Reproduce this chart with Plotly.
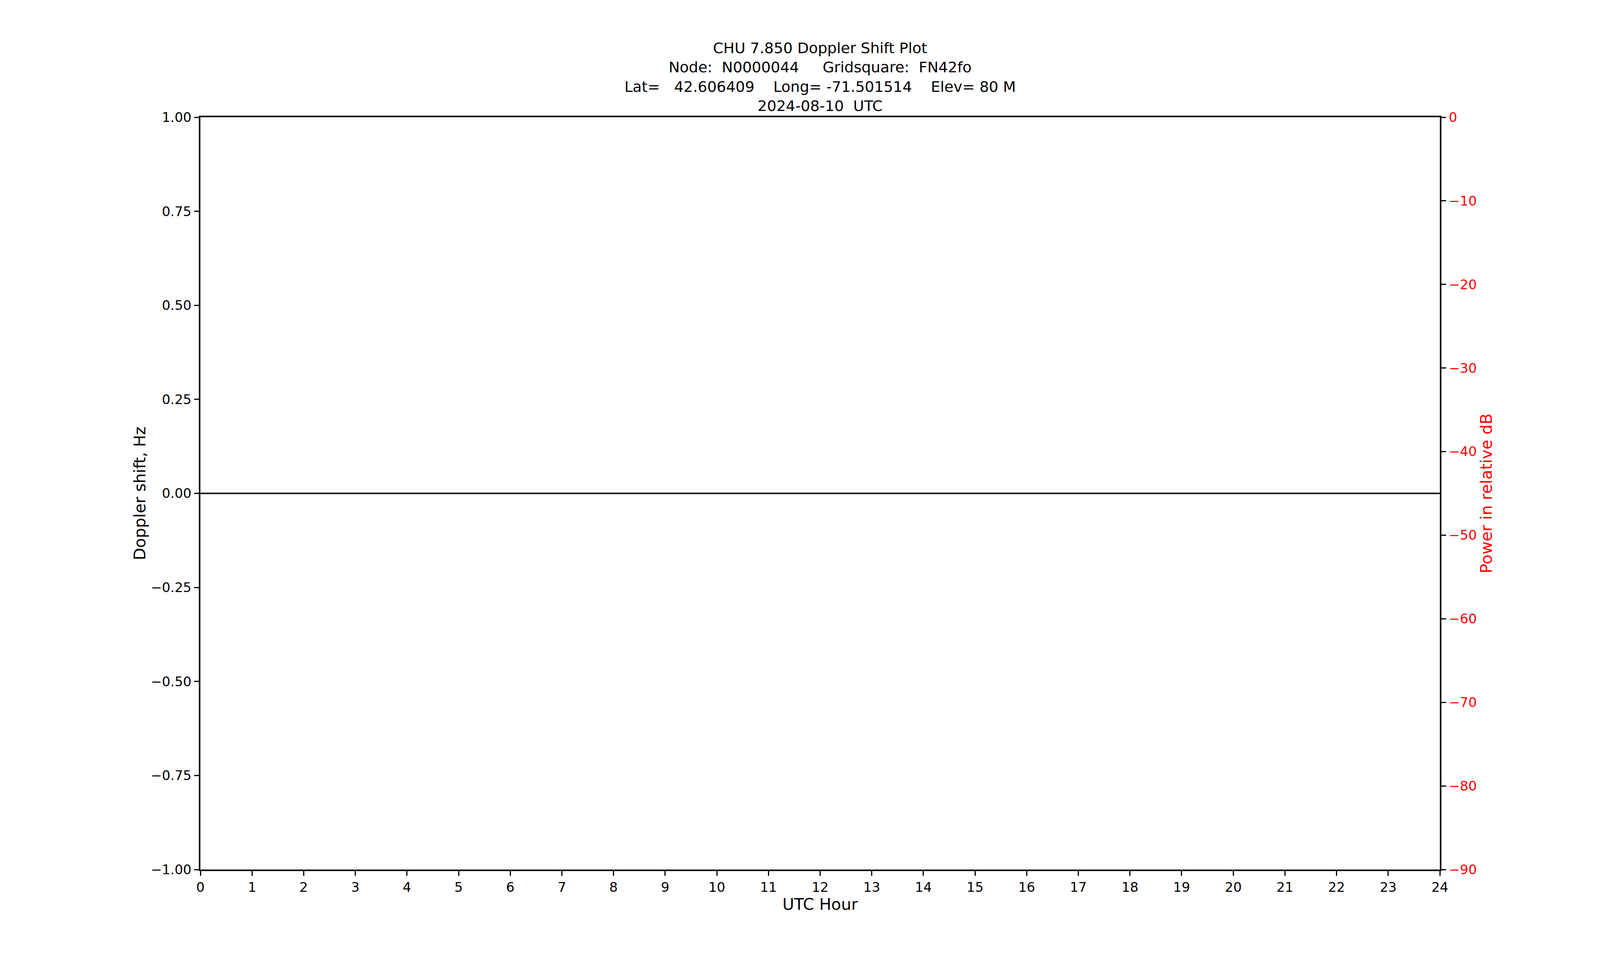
import plotly.graph_objects as go

# CHU doppler day plot (no signal recorded this day -> flat zero doppler line)

hours = [0, 24]
doppler = [0.0, 0.0]

x_ticks = list(range(0, 25))
y_ticks = [-1.0, -0.75, -0.5, -0.25, 0.0, 0.25, 0.5, 0.75, 1.0]
power_ticks = [0, -10, -20, -30, -40, -50, -60, -70, -80, -90]

title_lines = [
    "CHU 7.850 Doppler Shift Plot",
    "Node:  N0000044     Gridsquare:  FN42fo",
    "Lat=   42.606409    Long= -71.501514    Elev= 80 M",
    "2024-08-10  UTC",
]

font_name = "DejaVu Sans"

fig = go.Figure()
fig.add_trace(go.Scatter(x=hours, y=doppler, mode='lines',
                         line=dict(color='#8c8c8c', width=5),
                         showlegend=False, hoverinfo='skip'))
fig.add_trace(go.Scatter(x=hours, y=doppler, mode='lines',
                         line=dict(color='black', width=2.5),
                         showlegend=False))
# empty power trace just to bring up the right axis
fig.add_trace(go.Scatter(x=[], y=[], yaxis='y2', mode='lines',
                         line=dict(color='red'), showlegend=False))

fig.update_layout(
    width=4080, height=2484,
    margin=dict(l=505, r=402, t=292, b=267),
    paper_bgcolor='white', plot_bgcolor='white',
    font=dict(family=font_name, size=34, color='black'),
    title=dict(text="<br>".join(title_lines), xref='paper', x=0.5, xanchor='center',
               y=0.9485, yanchor='top',
               font=dict(family=font_name, size=38, color='black')),
    xaxis=dict(range=[0, 24], tickvals=x_ticks, showgrid=False, zeroline=False,
               showline=True, linecolor='black', linewidth=4, mirror=True,
               ticks='outside', ticklen=12, tickwidth=3, tickcolor='black',
               title=dict(text="UTC Hour", standoff=7)),
    yaxis=dict(range=[-1, 1], tickvals=y_ticks, tickformat='.2f',
               showgrid=False, zeroline=False,
               showline=True, linecolor='black', linewidth=4, mirror=True,
               ticks='outside', ticklen=12, tickwidth=3, tickcolor='black',
               title=dict(text="Doppler shift, Hz", standoff=2)),
    yaxis2=dict(range=[-90, 0], tickvals=power_ticks, overlaying='y', side='right',
                showgrid=False, zeroline=False,
                showline=True, linecolor='black', linewidth=4,
                ticks='outside', ticklen=12, tickwidth=3, tickcolor='black',
                tickfont=dict(color='red'),
                title=dict(text="Power in relative dB", standoff=6,
                           font=dict(color='red'))),
)

fig.write_html("out.html")
